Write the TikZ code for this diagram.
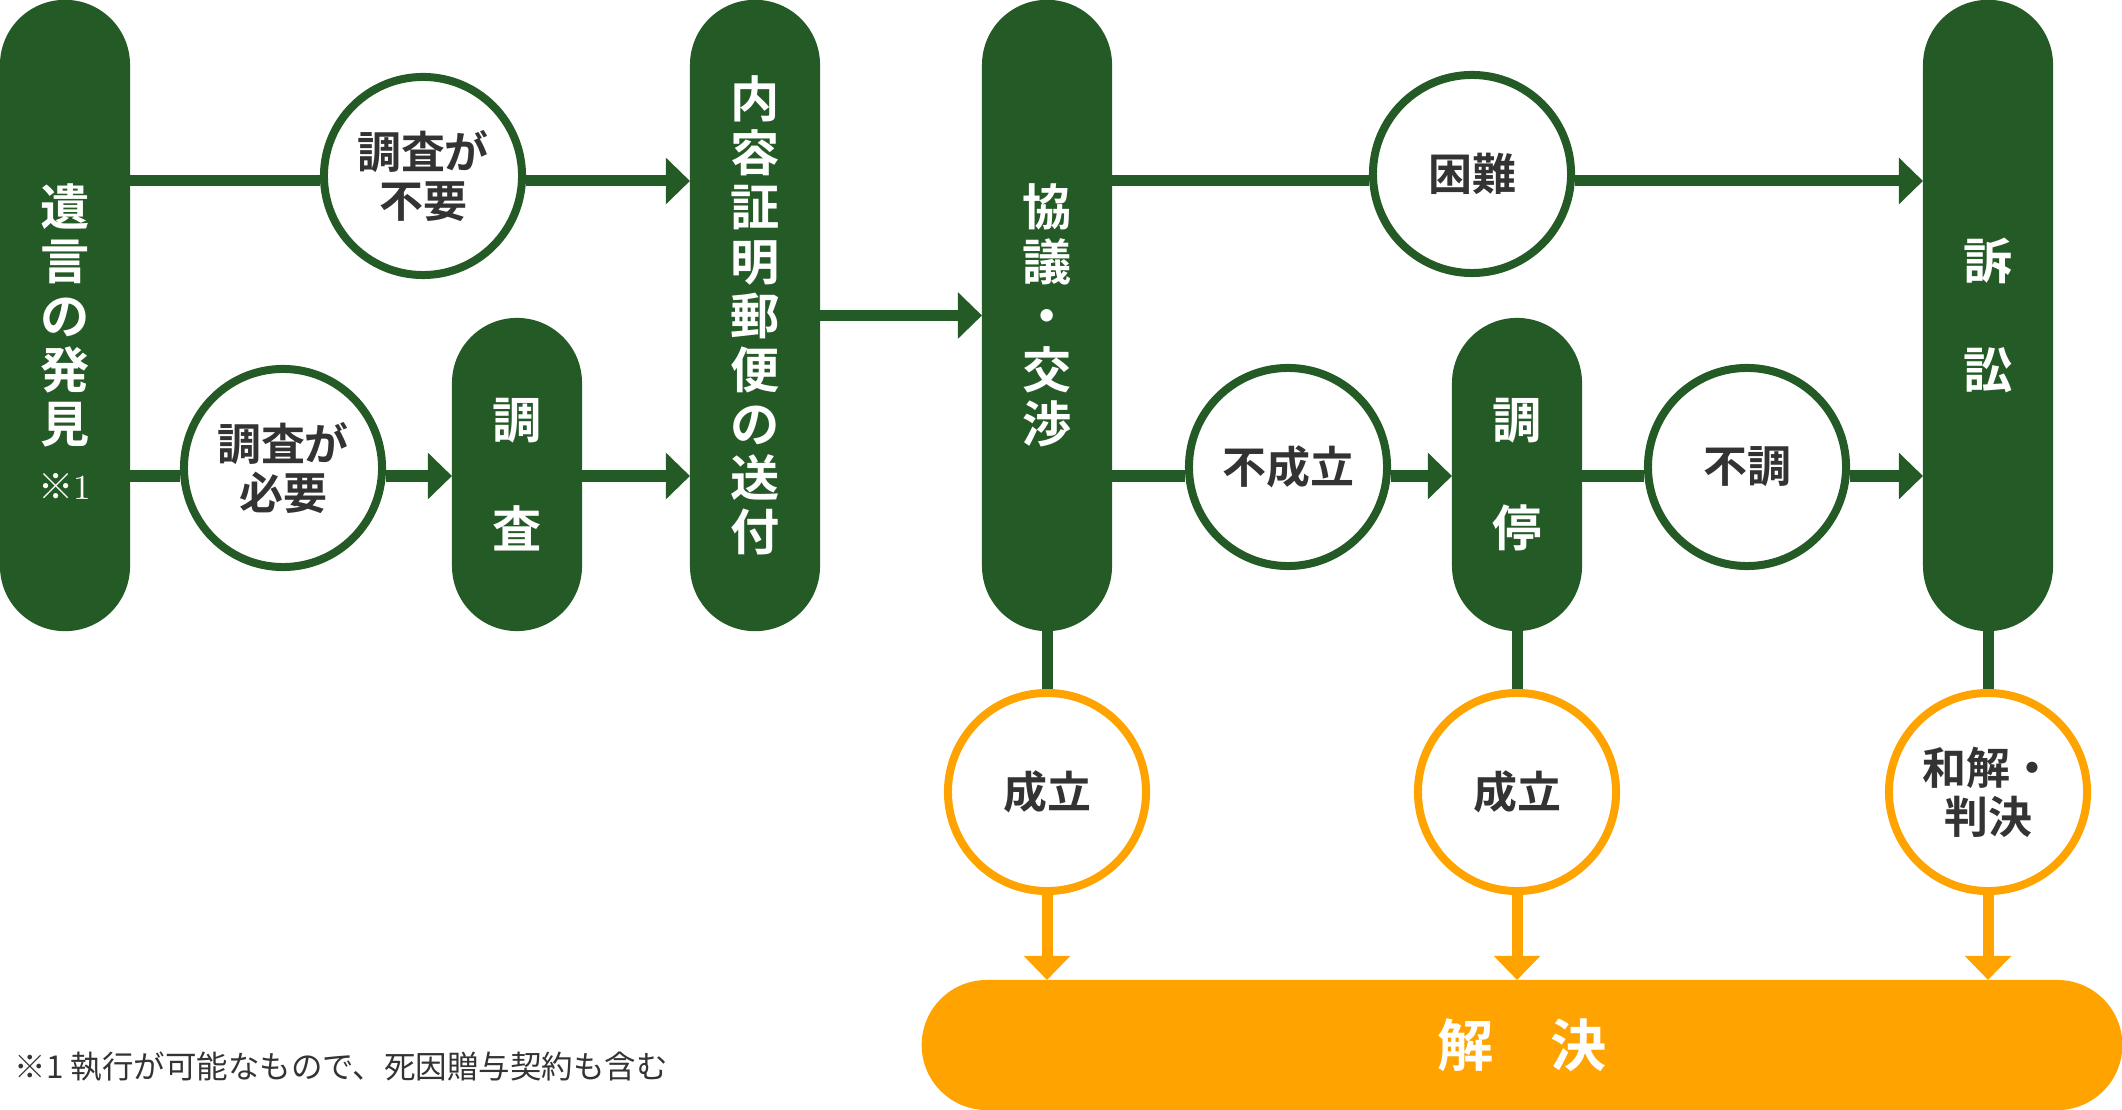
\documentclass[tikz,border=0pt]{standalone}
\usepackage{fontspec}
\newfontfamily\jpfont{Noto Sans CJK JP}[BoldFont={Noto Sans CJK JP Bold}]
\usetikzlibrary{arrows.meta}
\definecolor{leaf}{HTML}{245A25}
\definecolor{amber}{HTML}{FFA300}
\definecolor{ink}{HTML}{333333}

\begin{document}
\begin{tikzpicture}[x=0.01cm, y=-0.01cm,
	pill/.style={fill=leaf, rounded corners=0.65cm, minimum width=1.3cm, inner sep=0pt, outer sep=0pt,
		text=white, align=center, font=\jpfont\bfseries\fontsize{14}{15.4}\selectfont},
	ring/.style={circle, draw=leaf, line width=0.08cm, fill=white, minimum size=1.98cm, inner sep=0pt,
		text=ink, align=center, font=\jpfont\bfseries\fontsize{12.5}{14}\selectfont},
	okring/.style={ring, draw=amber},
	flow/.style={draw=leaf, line width=0.11cm},
	flowarrow/.style={flow, -{Triangle[length=0.24cm, width=0.45cm]}},
	okarrow/.style={draw=amber, line width=0.11cm, -{Triangle[length=0.24cm, width=0.45cm]}}]
	\useasboundingbox (0,0) rectangle (2122,1110);

	\coordinate (upper) at (0,181);
	\coordinate (lower) at (0,476);

	% left part
	\node[pill, minimum height=6.31cm] (hakken) at (65,315.5) {遺\\言\\の\\発\\見};
	\node[text=white, font=\fontsize{10}{11}\selectfont] (mark) at (65,486) {{\jpfont ※}1};
	\node[ring] (fuyo) at (423,176) {調査が\\不要};
	\node[ring] (hitsuyo) at (283,468) {調査が\\必要};
	\node[pill, minimum height=3.13cm] (chosa) at (517,474.5) {調\\[15.4pt]査};
	\node[pill, minimum height=6.31cm] (naiyo) at (755,315.5) {内\\容\\証\\明\\郵\\便\\の\\送\\付};

	% right part
	\node[pill, minimum height=6.31cm] (kyogi) at (1047,315.5) {協\\議\\・\\交\\渉};
	\node[ring] (konnan) at (1472,174) {困難};
	\node[ring] (fuseiritsu) at (1288,467) {不成立};
	\node[pill, minimum height=3.13cm] (chotei) at (1517,474.5) {調\\[15.4pt]停};
	\node[ring] (fucho) at (1747,467) {不調};
	\node[pill, minimum height=6.31cm] (sosho) at (1988,315.5) {訴\\[15.4pt]訟};

	% results
	\node[okring] (seiA) at (1047,792) {成立};
	\node[okring] (seiB) at (1517,792) {成立};
	\node[okring] (wakai) at (1988,792) {和解・\\判決};
	\node[fill=amber, rounded corners=0.65cm, minimum width=12cm, minimum height=1.3cm, inner sep=0pt, outer sep=0pt,
		text=white, font=\jpfont\bfseries\fontsize{16}{18}\selectfont] (kaiketsu) at (1522,1045) {解　決};

	\node[anchor=west, inner sep=0pt, text=ink, font=\jpfont\fontsize{8.95}{10}\selectfont] (footnote) at (14,1067)
		{※1 執行が可能なもので、死因贈与契約も含む};

	% connectors
	\draw[flow] (hakken.east |- upper) -- (fuyo.west |- upper);
	\draw[flowarrow] (fuyo.east |- upper) -- (naiyo.west |- upper);
	\draw[flow] (hakken.east |- lower) -- (hitsuyo.west |- lower);
	\draw[flowarrow] (hitsuyo.east |- lower) -- (chosa.west |- lower);
	\draw[flowarrow] (chosa.east |- lower) -- (naiyo.west |- lower);
	\draw[flowarrow] (naiyo.east) -- (kyogi.west);
	\draw[flow] (kyogi.east |- upper) -- (konnan.west |- upper);
	\draw[flowarrow] (konnan.east |- upper) -- (sosho.west |- upper);
	\draw[flow] (kyogi.east |- lower) -- (fuseiritsu.west |- lower);
	\draw[flowarrow] (fuseiritsu.east |- lower) -- (chotei.west |- lower);
	\draw[flow] (chotei.east |- lower) -- (fucho.west |- lower);
	\draw[flowarrow] (fucho.east |- lower) -- (sosho.west |- lower);

	\foreach \a/\b in {kyogi/seiA, chotei/seiB, sosho/wakai}{
		\draw[flow] (\a.south) -- (\b.north);
		\draw[okarrow] (\b.south) -- (\b.south |- kaiketsu.north);
	}
\end{tikzpicture}
\end{document}
